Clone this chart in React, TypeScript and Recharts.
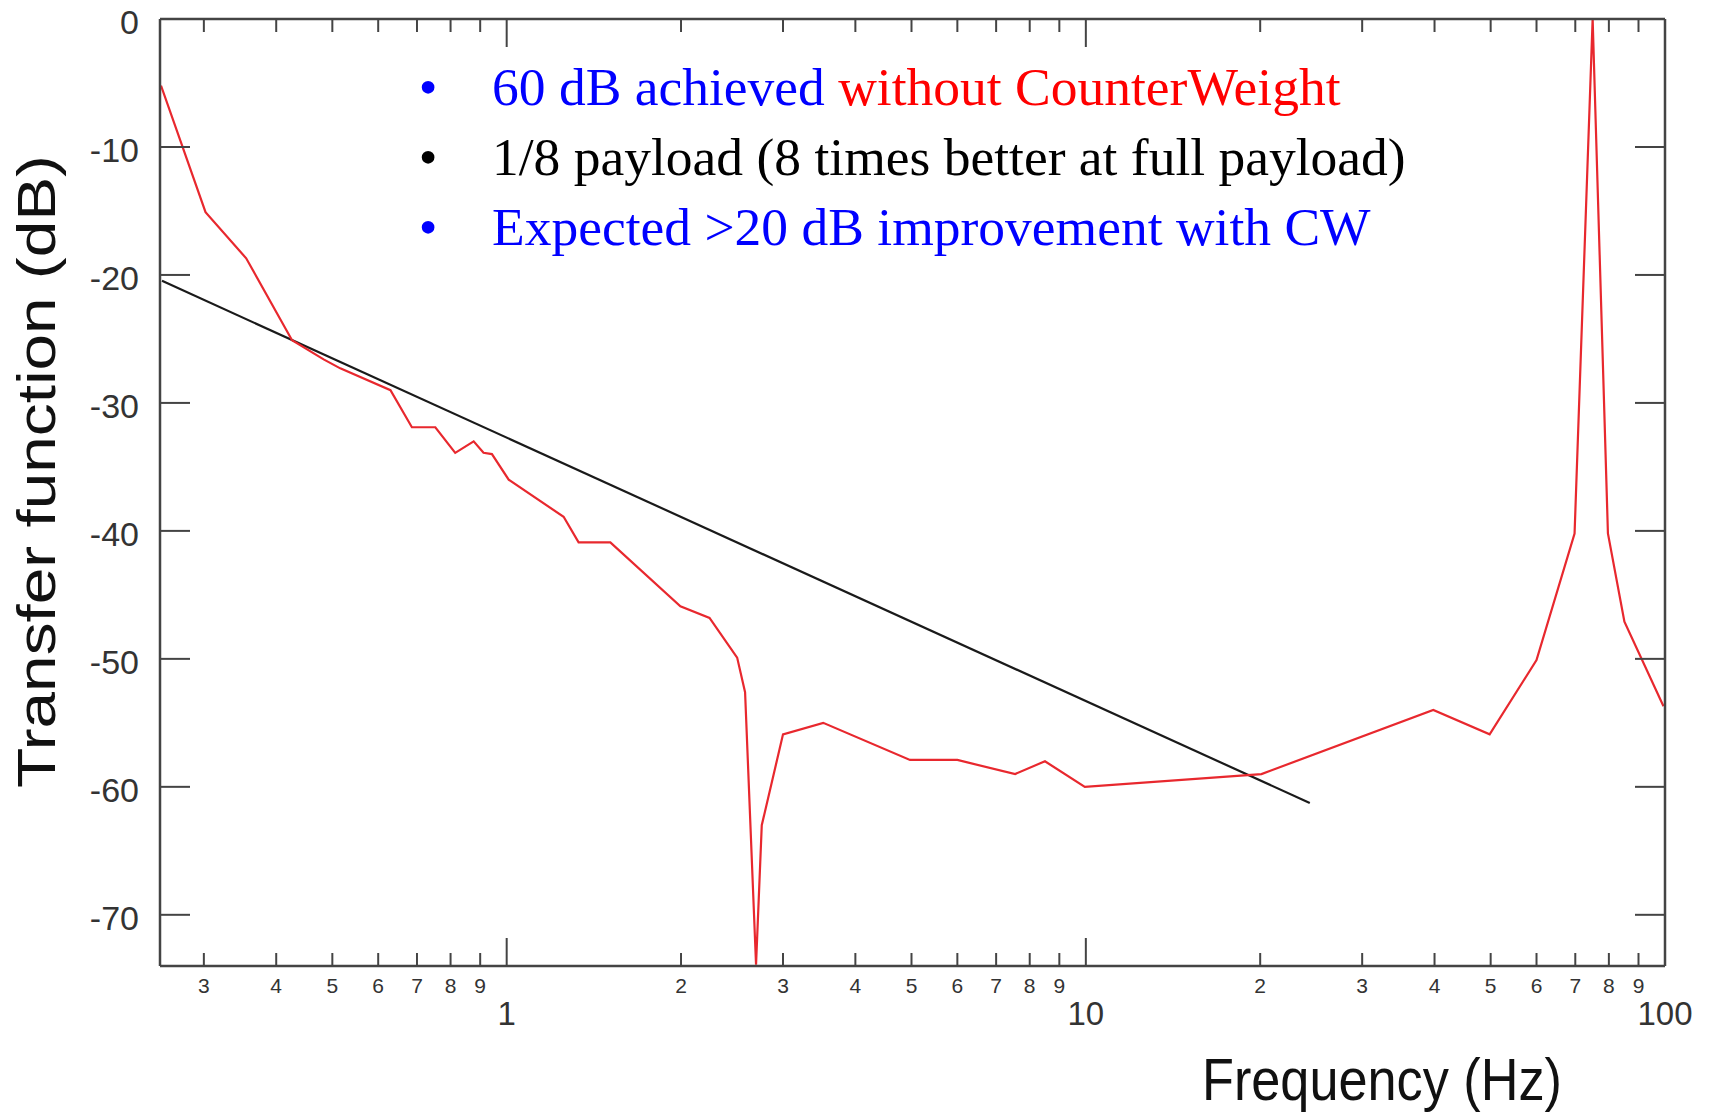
import React from 'react';
import { LineChart, Line, XAxis, YAxis } from 'recharts';

// Measured transfer function: frequency (Hz) and magnitude (dB)
const freqHz = [
  0.253, 0.302, 0.355, 0.426, 0.483, 0.516, 0.63, 0.686, 0.753, 0.815, 0.877, 0.912, 0.943,
  1.008, 1.254, 1.331, 1.51, 1.995, 2.24, 2.5, 2.58, 2.695, 2.757, 3.0, 3.52, 4.97, 6.0,
  7.55, 8.5, 9.96, 20.1, 39.8, 49.8, 60.0, 69.8, 75.0, 79.7, 85.1, 99.4,
];
const gainDb = [
  -5.2, -15.1, -18.7, -25.1, -26.6, -27.3, -29.0, -31.9, -31.9, -33.9, -33.0, -33.9, -34.0,
  -36.0, -38.9, -40.9, -40.9, -45.9, -46.8, -49.9, -52.6, -73.9, -63.0, -55.9, -55.0, -57.9, -57.9,
  -59.0, -58.0, -60.0, -59.0, -54.0, -55.9, -50.1, -40.2, 0, -40.2, -47.1, -53.7,
];

// Straight reference slope (-20 dB/decade)
const refFreqHz = [0.254, 24.36];
const refGainDb = [-20.46, -61.26];

// Log axis ticks
const xTicks = [
  0.3, 0.4, 0.5, 0.6, 0.7, 0.8, 0.9, 1, 2, 3, 4, 5, 6, 7, 8, 9, 10,
  20, 30, 40, 50, 60, 70, 80, 90, 100,
];
const xTickLabels = [
  '3', '4', '5', '6', '7', '8', '9', '1', '2', '3', '4', '5', '6', '7', '8', '9', '10',
  '2', '3', '4', '5', '6', '7', '8', '9', '100',
];
const xDecades = [1, 10, 100];
const yTicks = [0, -10, -20, -30, -40, -50, -60, -70];
const yTickLabels = ['0', '-10', '-20', '-30', '-40', '-50', '-60', '-70'];

const X_DOMAIN: [number, number] = [0.252, 100];
const Y_DOMAIN: [number, number] = [-74, 0];

const AXIS_COLOR = '#444';
const LABEL_COLOR = '#333';
const SANS = "'Liberation Sans', Arial, Helvetica, sans-serif";
const SERIF = "'Liberation Serif', 'Times New Roman', serif";

const measured = freqHz.map((f, i) => ({ f, db: gainDb[i] }));
const reference = refFreqHz.map((f, i) => ({ f, db: refGainDb[i] }));

const BottomTick = (props: any) => {
  const { x, y, payload } = props;
  const v = payload.value;
  const major = xDecades.includes(v);
  const label = xTickLabels[xTicks.indexOf(v)];
  return (
    <g>
      <line x1={x} x2={x} y1={y} y2={y - (major ? 28 : 13)} stroke={AXIS_COLOR} strokeWidth={2} />
      {major ? (
        <text x={x} y={y + 59} textAnchor="middle" fontSize={33} fill={LABEL_COLOR} fontFamily={SANS}>
          {label}
        </text>
      ) : (
        <text x={x} y={y + 27} textAnchor="middle" fontSize={21} fill={LABEL_COLOR} fontFamily={SANS}>
          {label}
        </text>
      )}
    </g>
  );
};

const TopTick = (props: any) => {
  const { x, y, payload } = props;
  const major = xDecades.includes(payload.value);
  return <line x1={x} x2={x} y1={y} y2={y + (major ? 28 : 13)} stroke={AXIS_COLOR} strokeWidth={2} />;
};

const LeftTick = (props: any) => {
  const { x, y, payload } = props;
  const label = yTickLabels[yTicks.indexOf(payload.value)];
  return (
    <g>
      <line x1={x} x2={x + 30} y1={y} y2={y} stroke={AXIS_COLOR} strokeWidth={2} />
      <text x={x - 21} y={y + 3} textAnchor="end" dominantBaseline="central" fontSize={34} fill={LABEL_COLOR} fontFamily={SANS}>
        {label}
      </text>
    </g>
  );
};

const RightTick = (props: any) => {
  const { x, y } = props;
  return <line x1={x} x2={x - 30} y1={y} y2={y} stroke={AXIS_COLOR} strokeWidth={2} />;
};

const axisLine = { stroke: AXIS_COLOR, strokeWidth: 2.5 };

export default function App() {
  return (
    <div style={{ position: 'absolute', left: 0, top: 0, width: 1715, height: 1114, background: '#fff' }}>
      <LineChart width={1715} height={1114} margin={{ top: 0, right: 0, bottom: 0, left: 0 }}>
        <XAxis
          xAxisId="bottom"
          dataKey="f"
          type="number"
          scale="log"
          domain={X_DOMAIN}
          allowDataOverflow
          ticks={xTicks}
          interval={0}
          height={148}
          tickSize={0}
          tickMargin={0}
          tickLine={false}
          axisLine={axisLine}
          tick={(p: any) => <BottomTick {...p} />}
        />
        <XAxis
          xAxisId="top"
          orientation="top"
          dataKey="f"
          type="number"
          scale="log"
          domain={X_DOMAIN}
          allowDataOverflow
          ticks={xTicks}
          interval={0}
          height={19}
          tickSize={0}
          tickMargin={0}
          tickLine={false}
          axisLine={axisLine}
          tick={(p: any) => <TopTick {...p} />}
        />
        <YAxis
          yAxisId="left"
          type="number"
          domain={Y_DOMAIN}
          allowDataOverflow
          ticks={yTicks}
          interval={0}
          width={160}
          tickSize={0}
          tickMargin={0}
          tickLine={false}
          axisLine={axisLine}
          tick={(p: any) => <LeftTick {...p} />}
        />
        <YAxis
          yAxisId="right"
          orientation="right"
          type="number"
          domain={Y_DOMAIN}
          allowDataOverflow
          ticks={yTicks}
          interval={0}
          width={50}
          tickSize={0}
          tickMargin={0}
          tickLine={false}
          axisLine={axisLine}
          tick={(p: any) => <RightTick {...p} />}
        />
        <Line
          xAxisId="bottom"
          yAxisId="left"
          data={reference}
          dataKey="db"
          type="linear"
          stroke="#1a1a1a"
          strokeWidth={2.2}
          dot={false}
          activeDot={false}
          isAnimationActive={false}
        />
        <Line
          xAxisId="bottom"
          yAxisId="left"
          data={measured}
          dataKey="db"
          type="linear"
          stroke="#e8282e"
          strokeWidth={2.2}
          dot={false}
          activeDot={false}
          isAnimationActive={false}
        />
      </LineChart>

      {/* axis titles and notes */}
      <svg width={1715} height={1114} style={{ position: 'absolute', left: 0, top: 0, pointerEvents: 'none' }}>
        <text
          transform="translate(55,788) rotate(-90)"
          fontFamily={SANS}
          fontSize={53}
          fill="#111"
          textLength={633}
          lengthAdjust="spacingAndGlyphs"
        >
          Transfer function (dB)
        </text>
        <text x={1202} y={1100} fontFamily={SANS} fontSize={60} fill="#111" textLength={360} lengthAdjust="spacingAndGlyphs">
          Frequency (Hz)
        </text>

        <g fontFamily={SERIF} fontSize={53.5}>
          <text x={428} y={105} textAnchor="middle" fill="#0000ff">•</text>
          <text x={492} y={105}>
            <tspan fill="#0000ff">60 dB achieved </tspan>
            <tspan fill="#ff0000">without CounterWeight</tspan>
          </text>
          <text x={428} y={175} textAnchor="middle" fill="#000">•</text>
          <text x={492} y={175} fill="#000">1/8 payload (8 times better at full payload)</text>
          <text x={428} y={245} textAnchor="middle" fill="#0000ff">•</text>
          <text x={492} y={245} fill="#0000ff">Expected &gt;20 dB improvement with CW</text>
        </g>
      </svg>
    </div>
  );
}
